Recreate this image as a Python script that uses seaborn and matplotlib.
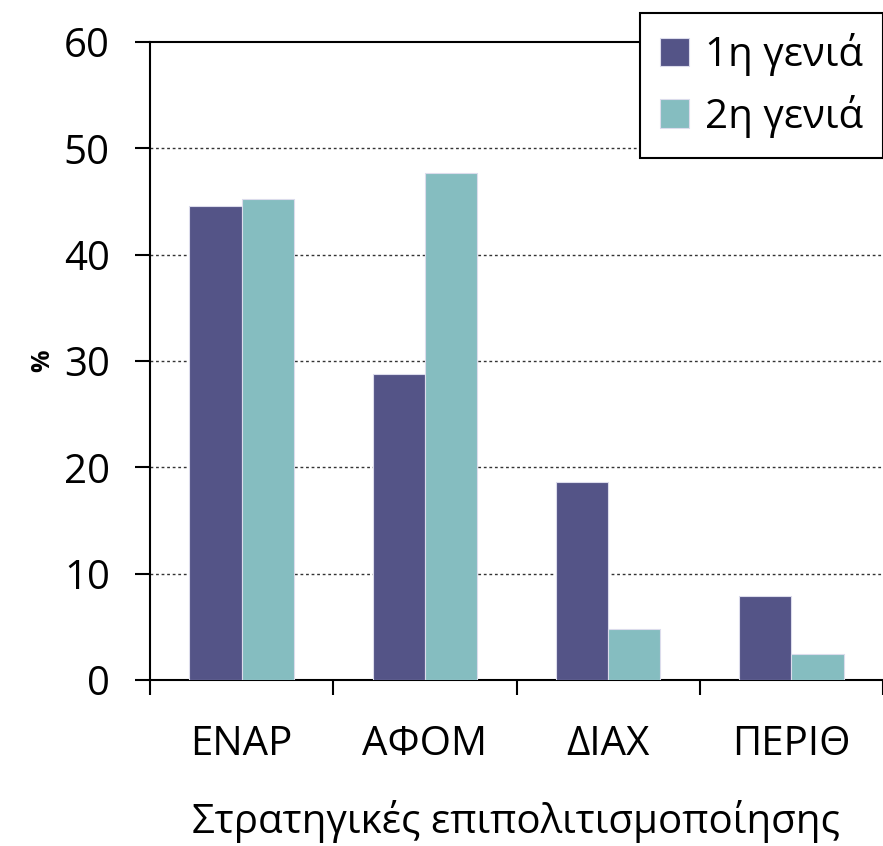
import pandas as pd
import matplotlib.pyplot as plt
import seaborn as sns

# Στρατηγικές επιπολιτισμοποίησης ανά γενιά (%)
katigories = ['ΕΝΑΡ', 'ΑΦΟΜ', 'ΔΙΑΧ', 'ΠΕΡΙΘ']
genia_1 = [44.6, 28.8, 18.6, 7.9]
genia_2 = [45.2, 47.7, 4.8, 2.4]
onomata = ['1η γενιά', '2η γενιά']

df = pd.DataFrame({
    'Στρατηγική': katigories * 2,
    'Τιμή': genia_1 + genia_2,
    'Γενιά': [onomata[0]] * 4 + [onomata[1]] * 4,
})

sns.set_theme(style="ticks")
plt.rcParams['font.family'] = ['Open Sans', 'DejaVu Sans']
plt.rcParams['text.color'] = 'black'
plt.rcParams['axes.labelcolor'] = 'black'
plt.rcParams['xtick.color'] = 'black'
plt.rcParams['ytick.color'] = 'black'

fig = plt.figure(figsize=(8.83, 8.46), dpi=100)
ax = fig.add_axes([150 / 883, 166 / 846, 733 / 883, 638 / 846])

xrwmata = ['#545487', '#85BDC0']
sns.barplot(data=df, x='Στρατηγική', y='Τιμή', hue='Γενιά', palette=xrwmata,
            saturation=1, width=0.57, gap=0, edgecolor='#dcdcec', linewidth=0.8,
            ax=ax, zorder=3)

ax.set_ylim(0, 60)
ax.set_xlim(-0.5, 3.5)
ax.set_yticks(range(0, 61, 10))
for y in range(10, 60, 10):
    ax.axhline(y, color='#333333', linestyle=(0, (2, 2)), linewidth=1.0, zorder=1)

# ticks στα όρια των κατηγοριών, ετικέτες στο κέντρο
ax.set_xticks([-0.5, 0.5, 1.5, 2.5, 3.5])
ax.set_xticklabels([])
ax.set_xticks(range(len(katigories)), minor=True)
ax.set_xticklabels(katigories, minor=True)
ax.tick_params(axis='x', which='major', direction='out', length=11, width=1.5)
ax.tick_params(axis='x', which='minor', length=0, pad=32, labelsize=29)
ax.tick_params(axis='y', direction='out', length=11, width=1.5, pad=18, labelsize=29)

for s in ['left', 'bottom', 'top']:
    ax.spines[s].set_visible(True)
    ax.spines[s].set_color('black')
    ax.spines[s].set_linewidth(1.5)
ax.spines['right'].set_visible(False)

ax.set_xlabel('Στρατηγικές επιπολιτισμοποίησης', fontsize=29, labelpad=25)
ax.set_ylabel('%', fontsize=18, fontweight='bold', labelpad=6)

leg = ax.legend(loc='upper right', bbox_to_anchor=(1.0, 1.045), fontsize=29,
                frameon=True, fancybox=False, edgecolor='black', framealpha=1,
                handlelength=0.7, handleheight=0.7, handletextpad=0.4,
                borderpad=0.5, labelspacing=0.45, borderaxespad=0)
leg.get_frame().set_linewidth(1.5)
leg.set_zorder(10)

plt.savefig('out.png', dpi=100)
